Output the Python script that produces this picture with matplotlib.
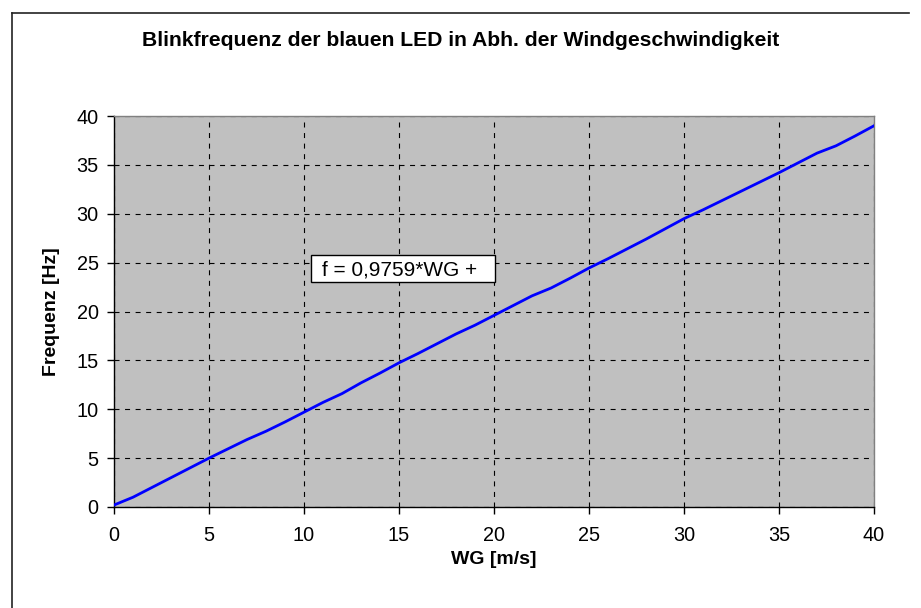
import numpy as np
import matplotlib.pyplot as plt
from matplotlib.lines import Line2D
from matplotlib.patches import Rectangle

# Daten: Windgeschwindigkeit und Blinkfrequenz
wg = list(range(0, 41))
freq = [0.2, 1.0, 2.0, 3.0, 4.0, 5.0, 5.95, 6.9, 7.75, 8.7,
        9.7, 10.7, 11.6, 12.7, 13.7, 14.75, 15.7, 16.7, 17.7, 18.6,
        19.6, 20.6, 21.6, 22.4, 23.4, 24.45, 25.4, 26.4, 27.4, 28.45,
        29.5, 30.4, 31.35, 32.3, 33.25, 34.2, 35.2, 36.2, 36.95, 37.95,
        39.0]
x_ticks = [0, 5, 10, 15, 20, 25, 30, 35, 40]
y_ticks = [0, 5, 10, 15, 20, 25, 30, 35, 40]

plt.rcParams['font.family'] = ['Liberation Sans', 'DejaVu Sans']

W, H = 921, 608
fig = plt.figure(figsize=(W / 100, H / 100), dpi=100)
fig.patch.set_facecolor('white')

# Rahmen (oben und links sichtbar)
fig.lines.append(Line2D([12 / W, 909 / W], [1 - 13 / H, 1 - 13 / H],
                        transform=fig.transFigure, color='#222222', linewidth=1.2))
fig.lines.append(Line2D([12 / W, 12 / W], [1 - 13 / H, 0],
                        transform=fig.transFigure, color='#222222', linewidth=1.2))

ax = fig.add_axes([114 / W, 1 - 507 / H, (874 - 114) / W, (507 - 116) / H])
ax.set_facecolor('#C0C0C0')

ax.plot(wg, freq, color='#0000FF', linewidth=2.0, zorder=3)

ax.set_xlim(0, 40)
ax.set_ylim(0, 40)
ax.set_xticks(x_ticks)
ax.set_yticks(y_ticks)
ax.grid(True, color='black', linestyle=(0, (4.5, 5)), linewidth=0.8, zorder=1)
ax.set_axisbelow(True)

for s in ['top', 'right']:
    ax.spines[s].set_color('#808080')
    ax.spines[s].set_linewidth(1.0)
for s in ['left', 'bottom']:
    ax.spines[s].set_color('black')
    ax.spines[s].set_linewidth(1.0)

ax.tick_params(direction='out', length=5, width=1, labelsize=14.3, pad=6)
ax.tick_params(axis='x', pad=9)

ax.set_xlabel('WG [m/s]', fontsize=14, fontweight='bold', labelpad=4)
ax.set_ylabel('Frequenz [Hz]', fontsize=14, fontweight='bold', labelpad=12)

fig.text(0.5, 1 - 40 / H, 'Blinkfrequenz der blauen LED in Abh. der Windgeschwindigkeit',
         ha='center', va='center', fontsize=15.2, fontweight='bold')

# Textfeld mit Regressionsgleichung
ax.add_patch(Rectangle((0.259, 0.576), 0.242, 0.068, transform=ax.transAxes,
                       facecolor='white', edgecolor='black', linewidth=1.0, zorder=4))
ax.text(0.274, 0.607, 'f = 0,9759*WG +', transform=ax.transAxes,
        ha='left', va='center', fontsize=15, zorder=5)

fig.savefig('out.png', dpi=100)
